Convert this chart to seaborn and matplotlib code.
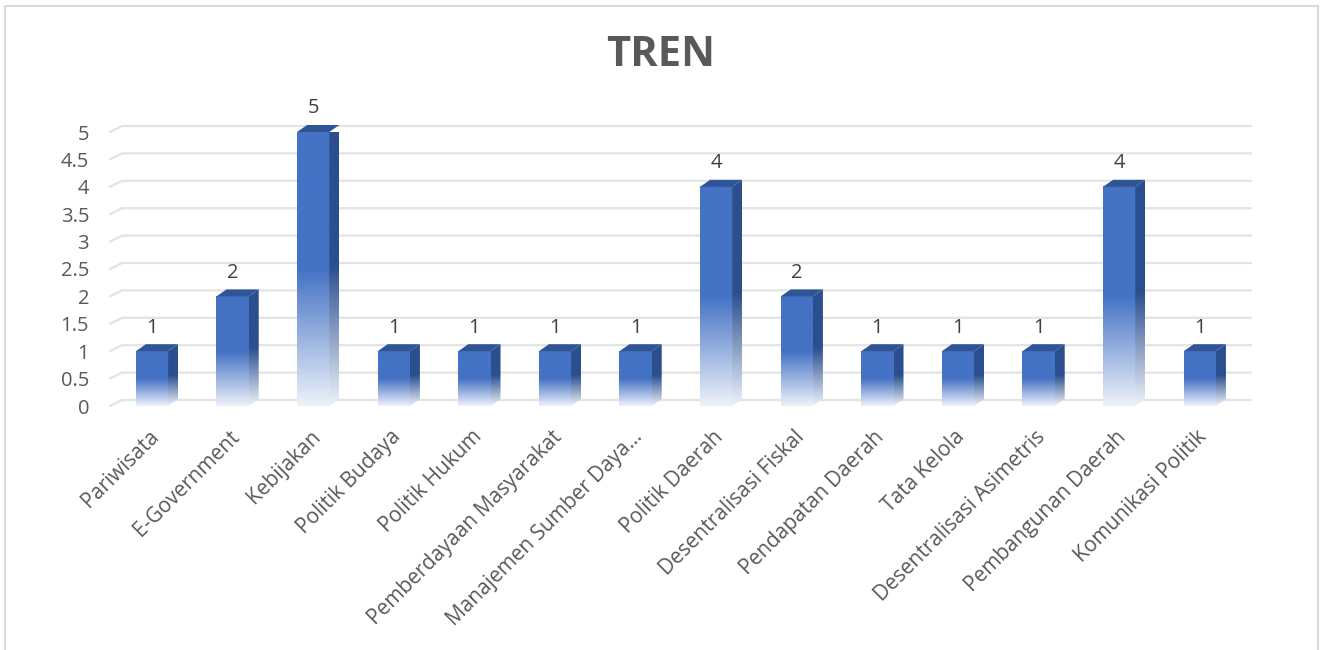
import matplotlib
matplotlib.use("Agg")
import matplotlib.pyplot as plt
import matplotlib.transforms as mtransforms
import numpy as np
import seaborn as sns
from matplotlib.patches import Polygon
from matplotlib.lines import Line2D
from matplotlib.colors import to_rgb

categories = ['Pariwisata', 'E-Government', 'Kebijakan', 'Politik Budaya', 'Politik Hukum',
              'Pemberdayaan Masyarakat', 'Manajemen Sumber Daya...', 'Politik Daerah',
              'Desentralisasi Fiskal', 'Pendapatan Daerah', 'Tata Kelola',
              'Desentralisasi Asimetris', 'Pembangunan Daerah', 'Komunikasi Politik']
values = [1, 2, 5, 1, 1, 1, 1, 4, 2, 1, 1, 1, 4, 1]
yticks = [0, 0.5, 1, 1.5, 2, 2.5, 3, 3.5, 4, 4.5, 5]

W, H = 1320, 650
FRONT = '#4472C4'
SIDE = '#2B4F8E'
TOP = '#2F5597'
TEXT = '#595959'

sns.set_theme(style='white')
plt.rcParams['font.family'] = ['Open Sans', 'DejaVu Sans']

fig = plt.figure(figsize=(W / 100, H / 100), dpi=100)
# axes placed in pixels
left, right, bottom, top = 110, 1251, 406, 132
ax = fig.add_axes([left / W, 1 - bottom / H, (right - left) / W, (bottom - top) / H])

sns.barplot(x=categories, y=values, width=0.4, color=FRONT, ax=ax, zorder=3)

xmin, xmax = -(152 - left) / 80.6, -(152 - left) / 80.6 + (right - left) / 80.6
ax.set_xlim(xmin, xmax)
ax.set_ylim(0, 5)
px_x = (right - left) / (xmax - xmin)
px_y = (bottom - top) / 5.0
dx = 10 / px_x
dy = 7 / px_y


def gradient(base, n=200, solid=0.5):
    base = np.array(to_rgb(base))
    light = np.array([0.93, 0.95, 0.98])
    t = np.linspace(0, 1, n)
    m = np.clip(t / solid, 0, 1)[:, None]
    rgb = light * (1 - m) + base * m
    return np.concatenate([rgb, np.ones((n, 1))], axis=1)[:, None, :]


front_img = gradient(FRONT)
side_img = gradient(SIDE)

# gridlines on the back wall with a little perspective leg at the left
for v in yticks:
    gl = Line2D([xmin, xmin + 12 / px_x, xmax], [v, v + 6 / px_y, v + 6 / px_y],
                color='#E3E3E3', lw=1.6, zorder=1, clip_on=False)
    ax.add_line(gl)

for p in ax.patches:
    x0 = p.get_x()
    w = p.get_width()
    h = p.get_height()
    x1 = x0 + w
    p.set_visible(False)
    # front face
    ax.imshow(front_img, extent=[x0, x1, 0, h], origin='lower', aspect='auto',
              interpolation='bilinear', zorder=4, clip_on=False)
    # side face
    side = Polygon([(x1, 0), (x1 + dx, dy), (x1 + dx, h + dy), (x1, h)],
                   closed=True, transform=ax.transData, facecolor='none', edgecolor='none')
    ax.add_patch(side)
    im = ax.imshow(side_img, extent=[x1, x1 + dx, 0, h + dy], origin='lower', aspect='auto',
                   interpolation='bilinear', zorder=4)
    im.set_clip_path(side)
    # top face
    ax.add_patch(Polygon([(x0, h), (x1, h), (x1 + dx, h + dy), (x0 + dx, h + dy)],
                         closed=True, facecolor=TOP, edgecolor='none', zorder=5, clip_on=False))
    ax.annotate(f'{h:g}', (x0 + w / 2, h), xytext=(0, 17), textcoords='offset points',
                ha='center', va='center', fontsize=14.5, color='#404040')

ax.set_xlim(xmin, xmax)
ax.set_ylim(0, 5)
ax.set_yticks(yticks)
ax.set_yticklabels([f'{v:g}' for v in yticks], fontsize=14.5, color=TEXT)
ax.tick_params(axis='y', length=0, pad=15)
ax.set_xticks(range(len(categories)))
ax.set_xticklabels(categories, rotation=45, ha='right', va='center',
                   rotation_mode='anchor', fontsize=15, color=TEXT)
ax.tick_params(axis='x', length=0, pad=20)
shift = mtransforms.ScaledTranslation(4 / 100, 0, fig.dpi_scale_trans)
for lab in ax.get_xticklabels():
    lab.set_transform(lab.get_transform() + shift)
ax.set_xlabel('')
ax.set_ylabel('')
ax.grid(False)
for s in ax.spines.values():
    s.set_visible(False)
ax.patch.set_alpha(0)

fig.text(661 / W, 1 - 56 / H, 'TREN', ha='center', va='center', fontsize=30,
         fontweight='bold', color=TEXT)

# chart border
fig.add_artist(Line2D([5 / W, 5 / W, 1318 / W, 1318 / W], [0, 1 - 6 / H, 1 - 6 / H, 0],
                      color='#D9D9D9', lw=1.5, transform=fig.transFigure))

fig.savefig('out.png', dpi=100)
